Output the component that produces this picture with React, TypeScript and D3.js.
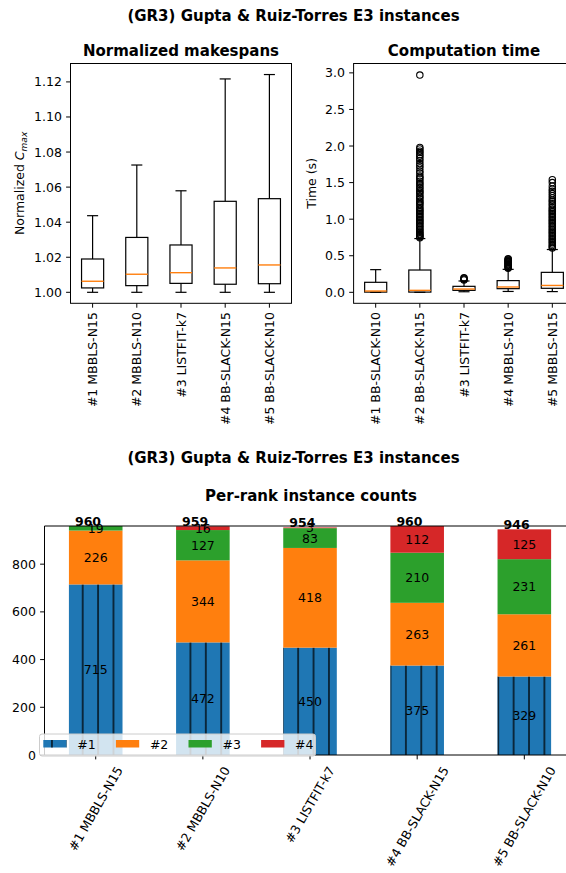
import React from 'react';
import * as d3 from 'd3';

const W = 566;
const H = 873;
const FONT = "'DejaVu Sans', sans-serif";
const FS = 12.5;
const FT = 15;

// ---------- Top-left: normalized makespans ----------
const mkLabels = ['#1 MBBLS-N15', '#2 MBBLS-N10', '#3 LISTFIT-k7', '#4 BB-SLACK-N15', '#5 BB-SLACK-N10'];
const mkWhiskLo = [1.0, 1.0, 1.0, 1.0, 1.0];
const mkQ1 = [1.0025, 1.0038, 1.0051, 1.0046, 1.0049];
const mkMed = [1.0063, 1.0103, 1.0112, 1.0139, 1.0156];
const mkQ3 = [1.019, 1.0313, 1.027, 1.0519, 1.0534];
const mkWhiskHi = [1.0437, 1.0726, 1.0579, 1.1217, 1.1242];
const mkTicks = [1.0, 1.02, 1.04, 1.06, 1.08, 1.1, 1.12];

// ---------- Top-right: computation time ----------
const ctLabels = ['#1 BB-SLACK-N10', '#2 BB-SLACK-N15', '#3 LISTFIT-k7', '#4 MBBLS-N10', '#5 MBBLS-N15'];
const ctWhiskLo = [0.0, 0.0, 0.008, 0.012, 0.01];
const ctQ1 = [0.003, 0.003, 0.027, 0.05, 0.055];
const ctMed = [0.018, 0.027, 0.045, 0.073, 0.094];
const ctQ3 = [0.137, 0.305, 0.082, 0.16, 0.273];
const ctWhiskHi = [0.31, 0.735, 0.155, 0.314, 0.585];
const ctFliers1: number[] = [];
const ctFliers2 = [2.97, 1.98, 1.96, 1.93, 1.91, 1.88, 1.86, 1.83, 1.8, 1.76, 1.73, 1.7, 1.66, 1.63, 1.59, 1.57, 1.55,
  1.52, 1.49, 1.47, 1.44, 1.42, 1.39, 1.37, 1.35, 1.32, 1.3, 1.28, 1.25, 1.23, 1.21, 1.19, 1.16, 1.14, 1.12, 1.1,
  1.08, 1.06, 1.04, 1.02, 1.0, 0.98, 0.96, 0.94, 0.92, 0.9, 0.88, 0.86, 0.84, 0.82, 0.8, 0.79, 0.77, 0.76, 0.745];
const ctFliers3 = [0.17, 0.18, 0.19, 0.2];
const ctFliers4 = [0.33, 0.34, 0.35, 0.36, 0.37, 0.38, 0.39, 0.4, 0.41, 0.42, 0.43, 0.44, 0.45, 0.46];
const ctFliers5 = [1.54, 1.5, 1.45, 1.41, 1.38, 1.35, 1.32, 1.29, 1.26, 1.24, 1.21, 1.19, 1.16, 1.14, 1.12, 1.1,
  1.08, 1.06, 1.04, 1.02, 1.0, 0.98, 0.96, 0.94, 0.92, 0.9, 0.88, 0.86, 0.84, 0.82, 0.8, 0.78, 0.76, 0.74, 0.72,
  0.7, 0.68, 0.66, 0.64, 0.62, 0.605];
const ctFliers = [ctFliers1, ctFliers2, ctFliers3, ctFliers4, ctFliers5];
const ctTicks = [0, 0.5, 1.0, 1.5, 2.0, 2.5, 3.0];

// ---------- Bottom: per-rank instance counts ----------
const rankCats = ['#1 MBBLS-N15', '#2 MBBLS-N10', '#3 LISTFIT-k7', '#4 BB-SLACK-N15', '#5 BB-SLACK-N10'];
const rankKeys = ['#1', '#2', '#3', '#4'];
const rank1 = [715, 472, 450, 375, 329];
const rank2 = [226, 344, 418, 263, 261];
const rank3 = [19, 127, 83, 210, 231];
const rank4 = [0, 16, 3, 112, 125];
const rankColors = ['#1f77b4', '#ff7f0e', '#2ca02c', '#d62728'];
const barTicks = [0, 200, 400, 600, 800];

let ctx: CanvasRenderingContext2D | null = null;
function measure(t: string, size: number) {
  if (!ctx) {
    const c = document.createElement('canvas');
    ctx = c.getContext('2d');
  }
  if (!ctx) return t.length * size * 0.6;
  ctx.font = `${size}px 'DejaVu Sans'`;
  return ctx.measureText(t).width;
}

type BoxProps = {
  x0: number; x1: number; y0: number; y1: number; yDomain: [number, number];
  labels: string[]; lo: number[]; q1: number[]; med: number[]; q3: number[]; hi: number[];
  fliers?: number[][]; ticks: number[]; fmt: (v: number) => string; title: string;
};

function BoxPanel(p: BoxProps) {
  const x = d3.scaleLinear().domain([0.5, 5.5]).range([p.x0, p.x1]);
  const y = d3.scaleLinear().domain(p.yDomain).range([p.y1, p.y0]);
  const hw = (x(1.25) - x(0.75)) / 2;
  const cw = hw / 2;
  return (
    <g>
      <text x={(p.x0 + p.x1) / 2} y={55.5} textAnchor="middle" fontWeight="bold" fontSize={FT}>{p.title}</text>
      {p.labels.map((lab, i) => {
        const cx = x(i + 1);
        return (
          <g key={i}>
            <line x1={cx} x2={cx} y1={y(p.q3[i])} y2={y(p.hi[i])} stroke="#000" strokeWidth={1.2} />
            <line x1={cx} x2={cx} y1={y(p.q1[i])} y2={y(p.lo[i])} stroke="#000" strokeWidth={1.2} />
            <line x1={cx - cw} x2={cx + cw} y1={y(p.hi[i])} y2={y(p.hi[i])} stroke="#000" strokeWidth={1.2} />
            <line x1={cx - cw} x2={cx + cw} y1={y(p.lo[i])} y2={y(p.lo[i])} stroke="#000" strokeWidth={1.2} />
            <rect x={cx - hw} y={y(p.q3[i])} width={2 * hw} height={y(p.q1[i]) - y(p.q3[i])} fill="none" stroke="#000" strokeWidth={1.2} />
            <line x1={cx - hw} x2={cx + hw} y1={y(p.med[i])} y2={y(p.med[i])} stroke="#ff7f0e" strokeWidth={1.4} />
            {(p.fliers ? p.fliers[i] : []).map((v, j) => (
              <circle key={j} cx={cx} cy={y(v)} r={3.2} fill="none" stroke="#000" strokeWidth={1.1} />
            ))}
            <line x1={cx} x2={cx} y1={p.y1} y2={p.y1 + 4.4} stroke="#000" strokeWidth={1} />
            <text transform={`translate(${cx},${p.y1 + 8.8}) rotate(-90)`} dy="0.36em" textAnchor="end" fontSize={FS}>{lab}</text>
          </g>
        );
      })}
      {p.ticks.map((t, i) => (
        <g key={i}>
          <line x1={p.x0 - 4.4} x2={p.x0} y1={y(t)} y2={y(t)} stroke="#000" strokeWidth={1} />
          <text x={p.x0 - 8.6} y={y(t)} dy="0.36em" textAnchor="end" fontSize={FS}>{p.fmt(t)}</text>
        </g>
      ))}
      <rect x={p.x0} y={p.y0} width={p.x1 - p.x0} height={p.y1 - p.y0} fill="none" stroke="#000" strokeWidth={1} />
    </g>
  );
}

export default function App() {
  // bottom chart scales
  const bx = d3.scaleLinear().domain([-0.478, 4.5]).range([44.5, 577.9]);
  const by = d3.scaleLinear().domain([0, 960]).range([755, 526]);
  const barW = bx(0.25) - bx(-0.25);
  const table = rankCats.map((c, i) => ({ cat: c, '#1': rank1[i], '#2': rank2[i], '#3': rank3[i], '#4': rank4[i] }));
  const series = d3.stack<any>().keys(rankKeys)(table);
  const totals = rankCats.map((_, i) => rank1[i] + rank2[i] + rank3[i] + rank4[i]);

  const a = 0.928 * FS, desc = 0.236 * FS;
  const ang = 60;

  return (
    <svg width={W} height={H} style={{ position: 'absolute', left: 0, top: 0, background: '#fff' }} fontFamily={FONT}>
      <defs>
        <pattern id="hatch" patternUnits="userSpaceOnUse" x={75} y={0} width={15.39} height={20}>
          <line x1={7.7} x2={7.7} y1={0} y2={20} stroke="#000" strokeWidth={1.3} />
        </pattern>
      </defs>
      <rect x={0} y={0} width={W} height={H} fill="#fff" />
      <text x={293.5} y={21} textAnchor="middle" fontWeight="bold" fontSize={FT}>(GR3) Gupta &amp; Ruiz-Torres E3 instances</text>

      <BoxPanel x0={70.5} x1={291.5} y0={63.5} y1={303.3} yDomain={[0.99373, 1.1305]}
        labels={mkLabels} lo={mkWhiskLo} q1={mkQ1} med={mkMed} q3={mkQ3} hi={mkWhiskHi}
        ticks={mkTicks} fmt={(v) => v.toFixed(2)} title="Normalized makespans" />
      <text transform="translate(24,183.4) rotate(-90)" textAnchor="middle" fontSize={FS}>
        Normalized <tspan fontStyle="italic">C</tspan><tspan fontStyle="italic" fontSize={9} dy={2.5}>max</tspan>
      </text>

      <BoxPanel x0={353.6} x1={574.4} y0={63.5} y1={303.3} yDomain={[-0.15, 3.128]}
        labels={ctLabels} lo={ctWhiskLo} q1={ctQ1} med={ctMed} q3={ctQ3} hi={ctWhiskHi} fliers={ctFliers}
        ticks={ctTicks} fmt={(v) => v.toFixed(1)} title="Computation time" />
      <text transform="translate(316,183.4) rotate(-90)" textAnchor="middle" fontSize={FS}>Time (s)</text>

      {/* bottom figure */}
      <text x={293.5} y={463} textAnchor="middle" fontWeight="bold" fontSize={FT}>(GR3) Gupta &amp; Ruiz-Torres E3 instances</text>
      <text x={311} y={501} textAnchor="middle" fontWeight="bold" fontSize={FT}>Per-rank instance counts</text>

      {series.map((s, k) => (
        <g key={k}>
          {s.map((d, i) => {
            const v = d[1] - d[0];
            if (v <= 0) return null;
            const cx = bx(i);
            return (
              <g key={i}>
                <rect x={cx - barW / 2} y={by(d[1])} width={barW} height={by(d[0]) - by(d[1])} fill={rankColors[k]} />
                {k === 0 && (
                  <rect x={cx - barW / 2} y={by(d[1])} width={barW} height={by(d[0]) - by(d[1])} fill="url(#hatch)" />
                )}
              </g>
            );
          })}
        </g>
      ))}
      {series.map((s, k) => (
        <g key={'l' + k}>
          {s.map((d, i) => {
            const v = d[1] - d[0];
            if (v <= 0) return null;
            return (
              <text key={i} x={bx(i)} y={(by(d[0]) + by(d[1])) / 2} dy="0.36em" textAnchor="middle" fontSize={FS}>{v}</text>
            );
          })}
        </g>
      ))}
      {totals.map((t, i) => (
        <text key={i} x={bx(i) - 7.7} y={by(t)} textAnchor="middle" fontWeight="bold" fontSize={FS}>{t}</text>
      ))}

      {/* axes */}
      <line x1={44.5} x2={W} y1={526} y2={526} stroke="#000" strokeWidth={1} />
      <line x1={44.5} x2={44.5} y1={526} y2={755} stroke="#000" strokeWidth={1} />
      <line x1={44.5} x2={W} y1={755} y2={755} stroke="#000" strokeWidth={1} />
      {barTicks.map((t, i) => (
        <g key={i}>
          <line x1={40.1} x2={44.5} y1={by(t)} y2={by(t)} stroke="#000" strokeWidth={1} />
          <text x={35.9} y={by(t)} dy="0.36em" textAnchor="end" fontSize={FS}>{t}</text>
        </g>
      ))}
      {rankCats.map((c, i) => {
        const cx = bx(i);
        const L = measure(c, FS);
        const Bx = cx + 0.25 * L + 0.433 * (a - desc);
        const By = 764 + 0.5 * a;
        return (
          <g key={i}>
            <line x1={cx} x2={cx} y1={755} y2={759.4} stroke="#000" strokeWidth={1} />
            <text transform={`translate(${Bx},${By}) rotate(${-ang})`} textAnchor="end" fontSize={FS}>{c}</text>
          </g>
        );
      })}

      {/* legend */}
      <rect x={39.5} y={734} width={276} height={22} rx={2.5} fill="#fff" fillOpacity={0.8} stroke="#cccccc" strokeWidth={1} />
      {rankKeys.map((k, i) => {
        const lx = 43.3 + i * 72.6;
        return (
          <g key={k}>
            <rect x={lx} y={740} width={23.3} height={7.5} fill={rankColors[i]} />
            {i === 0 && <rect x={lx} y={740} width={23.3} height={7.5} fill="url(#hatch)" />}
            <text x={lx + 34} y={744} dy="0.36em" fontSize={FS}>{k}</text>
          </g>
        );
      })}
    </svg>
  );
}
